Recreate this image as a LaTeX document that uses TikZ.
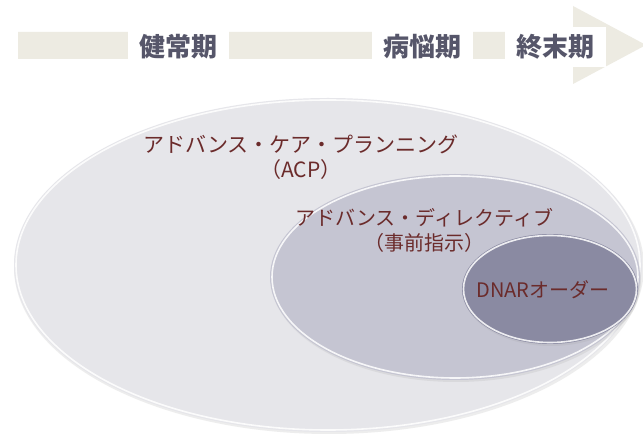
\documentclass[tikz,border=0pt]{standalone}
\usepackage{fontspec}
\newfontfamily\cjk{Noto Sans CJK JP}
\definecolor{beige}{HTML}{EDEBE2}
\definecolor{phasetext}{HTML}{56566A}
\definecolor{lbltext}{HTML}{6B2B2B}
\definecolor{outerfill}{HTML}{E6E6EA}
\definecolor{midfill}{HTML}{C5C5D2}
\definecolor{innerfill}{HTML}{8A8AA2}
\begin{document}
\begin{tikzpicture}[x=1pt,y=-1pt,
  phase/.style={fill=white, text=phasetext, font=\cjk\bfseries\fontsize{26}{30}\selectfont,
    minimum width=101pt, minimum height=40pt, inner sep=0pt},
  lbl/.style={text=lbltext, align=center, inner sep=0pt},
  shade/.style={fill=black!35, opacity=0.2},
  rim/.style={draw=white, line width=1.6pt, opacity=0.85}]
\useasboundingbox (0,0) rectangle (643,435);
\fill[white] (0,0) rectangle (643,435);

% time arrow
\fill[beige] (18,32) -- (573,32) -- (573,6) -- (646,45) -- (573,84) -- (573,59) -- (18,59) -- cycle;
\node[phase] (p1) at (178,47) {健常期};
\node[phase] (p2) at (422,47) {病悩期};
\node[phase] (p3) at (555,47) {終末期};

% outer ellipse (ACP)
\fill[shade] (329,267) ellipse [x radius=315pt, y radius=167pt];
\fill[outerfill] (328,265) ellipse [x radius=314pt, y radius=167pt];
\draw[rim] (328,265) ellipse [x radius=312pt, y radius=165pt];

% middle ellipse (advance directive)
\fill[shade] (456,279) ellipse [x radius=185pt, y radius=103pt];
\fill[midfill] (455,277) ellipse [x radius=185pt, y radius=103pt];
\draw[rim] (455,277) ellipse [x radius=183pt, y radius=101pt];

% inner ellipse (DNAR)
\fill[shade] (551,291) ellipse [x radius=88pt, y radius=55pt];
\fill[innerfill] (550,289) ellipse [x radius=88pt, y radius=55pt];
\draw[rim] (550,289) ellipse [x radius=86.5pt, y radius=53.5pt];

% labels
\node[lbl, font=\cjk\fontsize{21}{24.5}\selectfont] (acp) at (301,157)
  {アドバンス・ケア・プランニング\\（ACP）};
\node[lbl, font=\cjk\fontsize{20}{25}\selectfont] (ad) at (424,230.5)
  {アドバンス・ディレクティブ\\（事前指示）};
\node[lbl, font=\cjk\fontsize{20}{25}\selectfont] (dnar) at (543,290) {DNARオーダー};
\end{tikzpicture}
\end{document}
